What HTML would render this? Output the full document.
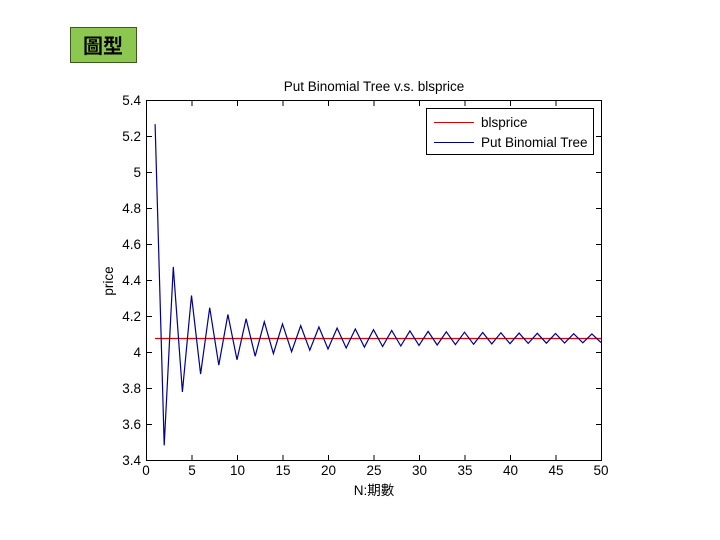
<!DOCTYPE html>
<html><head><meta charset="utf-8"><style>
body{margin:0;width:720px;height:540px;background:#fff;overflow:hidden}
svg{display:block}
text{font-family:"Liberation Sans",sans-serif;font-size:13.5px;fill:#000}
</style></head><body>
<svg width="720" height="540" xmlns="http://www.w3.org/2000/svg">
<rect x="70.5" y="27.5" width="66" height="35" fill="#8cc850" stroke="#3c5a1e" stroke-width="1"/>
<text x="103" y="53" text-anchor="middle" style="font-family:'Noto Sans CJK TC',sans-serif;font-size:20px;font-weight:bold">圖型</text>
<text x="374" y="91" text-anchor="middle">Put Binomial Tree v.s. blsprice</text>
<rect x="146.5" y="100.5" width="455" height="360" fill="#fff" stroke="#000" stroke-width="1"/>
<g stroke="#000" stroke-width="1">
<line x1="192" y1="460" x2="192" y2="455"/><line x1="237.5" y1="460" x2="237.5" y2="455"/><line x1="283" y1="460" x2="283" y2="455"/><line x1="328.5" y1="460" x2="328.5" y2="455"/><line x1="374" y1="460" x2="374" y2="455"/><line x1="419.5" y1="460" x2="419.5" y2="455"/><line x1="465" y1="460" x2="465" y2="455"/><line x1="510.5" y1="460" x2="510.5" y2="455"/><line x1="556" y1="460" x2="556" y2="455"/>
<line x1="192" y1="101" x2="192" y2="106"/><line x1="237.5" y1="101" x2="237.5" y2="106"/><line x1="283" y1="101" x2="283" y2="106"/><line x1="328.5" y1="101" x2="328.5" y2="106"/><line x1="374" y1="101" x2="374" y2="106"/><line x1="419.5" y1="101" x2="419.5" y2="106"/><line x1="465" y1="101" x2="465" y2="106"/><line x1="510.5" y1="101" x2="510.5" y2="106"/><line x1="556" y1="101" x2="556" y2="106"/>
<line x1="147" y1="136.5" x2="152" y2="136.5"/><line x1="147" y1="172.5" x2="152" y2="172.5"/><line x1="147" y1="208.5" x2="152" y2="208.5"/><line x1="147" y1="244.5" x2="152" y2="244.5"/><line x1="147" y1="280.5" x2="152" y2="280.5"/><line x1="147" y1="316.5" x2="152" y2="316.5"/><line x1="147" y1="352.5" x2="152" y2="352.5"/><line x1="147" y1="388.5" x2="152" y2="388.5"/><line x1="147" y1="424.5" x2="152" y2="424.5"/>
<line x1="601" y1="136.5" x2="596" y2="136.5"/><line x1="601" y1="172.5" x2="596" y2="172.5"/><line x1="601" y1="208.5" x2="596" y2="208.5"/><line x1="601" y1="244.5" x2="596" y2="244.5"/><line x1="601" y1="280.5" x2="596" y2="280.5"/><line x1="601" y1="316.5" x2="596" y2="316.5"/><line x1="601" y1="352.5" x2="596" y2="352.5"/><line x1="601" y1="388.5" x2="596" y2="388.5"/><line x1="601" y1="424.5" x2="596" y2="424.5"/>
</g>
<g text-anchor="middle">
<text x="146" y="475">0</text><text x="192" y="475">5</text><text x="237.5" y="475">10</text><text x="283" y="475">15</text><text x="328.5" y="475">20</text><text x="374" y="475">25</text><text x="419.5" y="475">30</text><text x="465" y="475">35</text><text x="510.5" y="475">40</text><text x="556" y="475">45</text><text x="601" y="475">50</text>
</g>
<g text-anchor="end">
<text x="141" y="105">5.4</text><text x="141" y="141">5.2</text><text x="141" y="177">5</text><text x="141" y="213">4.8</text><text x="141" y="249">4.6</text><text x="141" y="285">4.4</text><text x="141" y="321">4.2</text><text x="141" y="357">4</text><text x="141" y="393">3.8</text><text x="141" y="429">3.6</text><text x="141" y="465">3.4</text>
</g>
<text x="374" y="495" text-anchor="middle" style="font-family:'Liberation Sans','Noto Sans CJK TC',sans-serif">N:期數</text>
<text transform="translate(113,281) rotate(-90)" text-anchor="middle">price</text>
<line x1="155" y1="338.5" x2="601" y2="338.5" stroke="#e00000" stroke-width="1.2"/>
<polyline fill="none" stroke="#00008b" stroke-width="1.2" points="155.1,124.1 164.2,445.4 173.3,266.9 182.4,391.9 191.5,295.5 200.6,374 209.7,307.7 218.8,365.1 227.9,314.5 237,359.7 246.1,318.8 255.2,356.2 264.3,321.8 273.4,353.6 282.5,324 291.6,351.7 300.7,325.7 309.8,350.2 318.9,327 328,349 337.1,328.1 346.2,348 355.3,329 364.4,347.2 373.5,329.7 382.6,346.5 391.7,330.4 400.8,346 409.9,330.9 419,345.4 428.1,331.4 437.2,345 446.3,331.8 455.4,344.6 464.5,332.2 473.6,344.3 482.7,332.5 491.8,343.9 500.9,332.8 510,343.7 519.1,333.1 528.2,343.4 537.3,333.3 546.4,343.2 555.5,333.5 564.6,343 573.7,333.7 582.8,342.8 591.9,333.9 601,342.6"/>
<rect x="426.5" y="108.5" width="167" height="46" fill="#fff" stroke="#000" stroke-width="1"/>
<line x1="434" y1="122.5" x2="474" y2="122.5" stroke="#e00000"/>
<line x1="434" y1="142.5" x2="474" y2="142.5" stroke="#00008b"/>
<text x="481" y="127">blsprice</text>
<text x="481" y="147">Put Binomial Tree</text>
</svg>
</body></html>
